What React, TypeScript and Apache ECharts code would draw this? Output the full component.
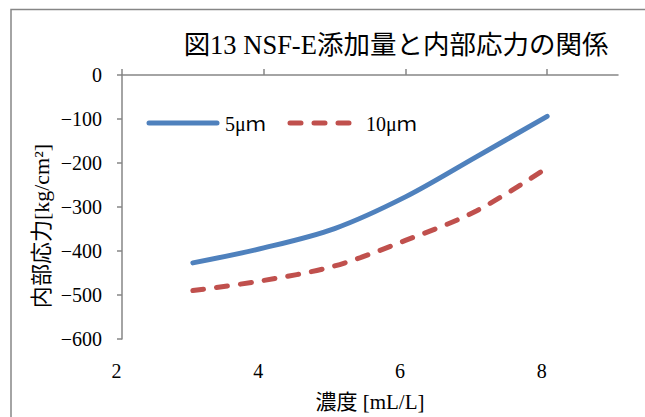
import React, { useEffect, useRef } from "react";
import * as echarts from "echarts";

// 濃度 [mL/L]
const concentration = [3, 4, 5, 6, 7, 8];
// 内部応力 [kg/cm²]
const stress5um = [-427, -393, -349, -277, -186, -94];
const stress10um = [-490, -467, -434, -376, -309, -211];

const seriesNames = ["5μｍ", "10μｍ"];
const seriesColors = ["#4F81BD", "#C0504D"];
const titleText = "図13 NSF-E添加量と内部応力の関係";
const xAxisTitle = "濃度 [mL/L]";
const yAxisTitle = "内部応力[kg/cm²]";

const SERIF = "'Liberation Serif', 'Noto Sans CJK JP', serif";
const AXIS_GRAY = "#868686";
const DASH = [11, 13];

// Plot box; the x scale runs 2..9 but is labelled only up to 8,
// so a second grid covering 2..8 carries the ticks and labels.
const PLOT_LEFT = 122;
const PLOT_RIGHT = 27;
const PLOT_TOP = 75;
const PLOT_BOTTOM = 78;
const X_MIN = 2;
const X_MAX = 9;
const X_LABEL_MAX = 8;

export default function App() {
  const ref = useRef<HTMLDivElement>(null);

  useEffect(() => {
    if (!ref.current) return;
    const chart = echarts.init(ref.current, undefined, { renderer: "svg" });

    const toPairs = (ys: number[]) => concentration.map((x, i) => [x, ys[i]]);

    const plotWidth = 645 - PLOT_LEFT - PLOT_RIGHT;
    const tickGridRight =
      PLOT_RIGHT + (plotWidth * (X_MAX - X_LABEL_MAX)) / (X_MAX - X_MIN);

    // Hand-drawn legend row: line sample followed by its label
    const legendItems: any[] = [];
    const legendStarts = [147, 288];
    seriesNames.forEach((name, i) => {
      const x0 = legendStarts[i];
      legendItems.push({
        type: "line",
        shape: { x1: x0 + 2, y1: 123, x2: x0 + 70, y2: 123 },
        style: {
          stroke: seriesColors[i],
          lineWidth: 5,
          lineCap: "round",
          lineDash: i === 1 ? DASH : null,
        },
        silent: true,
      });
      legendItems.push({
        type: "text",
        x: x0 + 78,
        y: 124,
        style: {
          text: name,
          align: "left",
          verticalAlign: "middle",
          font: `20px ${SERIF}`,
          fill: "#000",
        },
      });
    });

    chart.setOption({
      animation: false,
      backgroundColor: "#ffffff",
      grid: [
        { left: PLOT_LEFT, right: PLOT_RIGHT, top: PLOT_TOP, bottom: PLOT_BOTTOM },
        { left: PLOT_LEFT, right: tickGridRight, top: PLOT_TOP, bottom: PLOT_BOTTOM },
      ],
      xAxis: [
        {
          type: "value",
          gridIndex: 0,
          min: X_MIN,
          max: X_MAX,
          name: xAxisTitle,
          nameLocation: "middle",
          nameGap: 52,
          nameTextStyle: { fontSize: 21, fontFamily: SERIF, color: "#000" },
          axisLine: { show: true, lineStyle: { color: AXIS_GRAY, width: 1.5 } },
          axisTick: { show: false },
          axisLabel: { show: false },
          splitLine: { show: false },
        },
        {
          type: "value",
          gridIndex: 1,
          min: X_MIN,
          max: X_LABEL_MAX,
          interval: 2,
          axisLine: { show: false },
          axisTick: {
            show: true,
            inside: true,
            length: 6,
            lineStyle: { color: AXIS_GRAY, width: 1.5 },
          },
          axisLabel: {
            margin: 22,
            padding: [0, 11, 0, 0],
            fontSize: 20,
            fontFamily: SERIF,
            color: "#000",
          },
          splitLine: { show: false },
        },
      ],
      yAxis: [
        {
          type: "value",
          gridIndex: 0,
          min: -600,
          max: 0,
          interval: 100,
          axisLine: { show: true, lineStyle: { color: AXIS_GRAY, width: 1.5 } },
          axisTick: { show: true, length: 5, lineStyle: { color: AXIS_GRAY, width: 1.5 } },
          axisLabel: {
            margin: 20,
            fontSize: 20,
            fontFamily: SERIF,
            color: "#000",
            formatter: (v: number) => (v < 0 ? "\u2212" + Math.abs(v) : String(v)),
          },
          splitLine: { show: false },
        },
        {
          type: "value",
          gridIndex: 1,
          min: -600,
          max: 0,
          show: false,
        },
      ],
      series: [
        {
          name: seriesNames[0],
          type: "line",
          xAxisIndex: 0,
          yAxisIndex: 0,
          smooth: 0.33,
          showSymbol: false,
          symbol: "none",
          data: toPairs(stress5um),
          lineStyle: { color: seriesColors[0], width: 5, cap: "round" },
          itemStyle: { color: seriesColors[0] },
        },
        {
          name: seriesNames[1],
          type: "line",
          xAxisIndex: 0,
          yAxisIndex: 0,
          smooth: 0.33,
          showSymbol: false,
          symbol: "none",
          data: toPairs(stress10um),
          lineStyle: { color: seriesColors[1], width: 5, type: DASH, cap: "round" },
          itemStyle: { color: seriesColors[1] },
        },
      ],
      graphic: [
        {
          type: "rect",
          shape: { x: 11, y: 9.5, width: 700, height: 460 },
          style: { fill: "none", stroke: AXIS_GRAY, lineWidth: 1.5 },
          silent: true,
        },
        {
          type: "text",
          x: 396,
          y: 45,
          style: {
            text: titleText,
            align: "center",
            verticalAlign: "middle",
            font: `26.5px ${SERIF}`,
            fill: "#000",
          },
        },
        {
          type: "text",
          x: 41,
          y: 226,
          rotation: Math.PI / 2,
          style: {
            text: yAxisTitle,
            align: "center",
            verticalAlign: "middle",
            font: `22px ${SERIF}`,
            fill: "#000",
          },
        },
        ...legendItems,
      ],
    });

    return () => chart.dispose();
  }, []);

  return (
    <div
      ref={ref}
      style={{ position: "fixed", left: 0, top: 0, width: 645, height: 417, background: "#fff" }}
    />
  );
}
